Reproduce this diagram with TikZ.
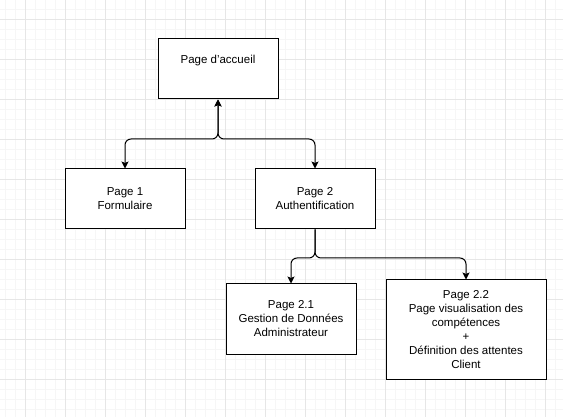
\documentclass[tikz,border=0pt]{standalone}
\usepackage{fontspec}
\setmainfont{Liberation Sans}
\usetikzlibrary{arrows.meta}
\definecolor{gridminor}{HTML}{F6F6F6}
\definecolor{gridmajor}{HTML}{E6E6E6}
\tikzset{
  box/.style={draw=black, line width=1pt, fill=white, inner sep=0pt, align=center,
    font=\fontsize{11.5}{14}\selectfont},
  lbl/.style={inner sep=0pt, align=center, font=\fontsize{11.5}{14}\selectfont},
  conn/.style={line width=1pt, rounded corners=6pt},
  tip/.style={-{Stealth[length=7pt,width=7pt,inset=1.5pt]}},
  bitip/.style={{Stealth[length=7pt,width=7pt,inset=1.5pt]}-{Stealth[length=7pt,width=7pt,inset=1.5pt]}}
}
\begin{document}
\begin{tikzpicture}[x=1pt,y=-1pt]
\useasboundingbox (0,0) rectangle (563,417);
\fill[white] (0,0) rectangle (563,417);
% grid
\foreach \gx in {5,15,...,563} \draw[gridminor, line width=0.8pt] (\gx,0) -- (\gx,417);
\foreach \gy in {-1,9,...,417} \draw[gridminor, line width=0.8pt] (0,\gy) -- (563,\gy);
\foreach \gx in {25,65,...,563} \draw[gridmajor, line width=0.8pt] (\gx,0) -- (\gx,417);
\foreach \gy in {19,59,...,417} \draw[gridmajor, line width=0.8pt] (0,\gy) -- (563,\gy);

% boxes
\node[box, minimum width=120pt, minimum height=60pt] (home) at (218,69) {};
\node[lbl] (hometxt) at (218,61) {Page d\char"0027 accueil};
\node[box, minimum width=120pt, minimum height=60pt] (p1) at (125,199) {Page 1\\Formulaire};
\node[box, minimum width=120pt, minimum height=60pt] (p2) at (315,199) {Page 2\\Authentification};
\node[box, minimum width=130pt, minimum height=70pt] (p21) at (291,319) {Page 2.1\\Gestion de Données\\Administrateur};
\node[box, minimum width=160pt, minimum height=99pt] (p22) at (466,329.5) {Page 2.2\\Page visualisation des\\compétences\\+\\Définition des attentes\\Client};

% connectors
\coordinate (j1) at (218,139);
\coordinate (j2) at (315,258);
\draw[conn, bitip] (home.south) -- (j1) -| (p1.north);
\draw[conn, bitip] (home.south) -- (j1) -| (p2.north);
\draw[conn, tip] (p2.south) -- (j2) -| (p21.north);
\draw[conn, tip] (p2.south) -- (j2) -| (p22.north);
\end{tikzpicture}
\end{document}
